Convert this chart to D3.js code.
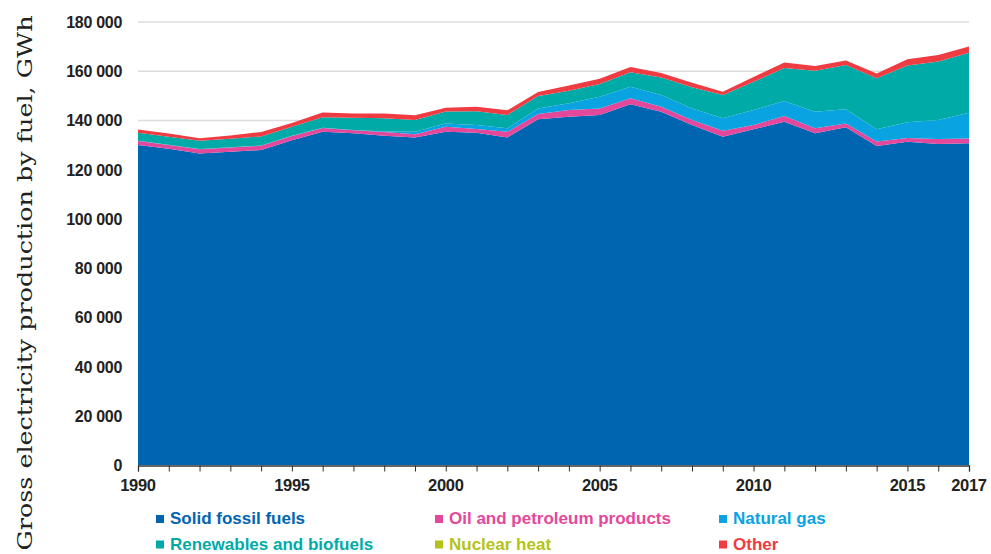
<!DOCTYPE html>
<html><head><meta charset="utf-8">
<script src="https://cdn.jsdelivr.net/npm/d3@7"></script>
<style>
html,body{margin:0;padding:0;background:#fff;}
svg{display:block;}
</style></head>
<body>
<svg id="chart" width="991" height="554"></svg>
<script>
const years = [1990,1991,1992,1993,1994,1995,1996,1997,1998,1999,2000,2001,2002,2003,2004,2005,2006,2007,2008,2009,2010,2011,2012,2013,2014,2015,2016,2017];
const solidFossil = [130000,128500,126600,127300,128000,132000,135400,134800,133800,133100,135400,135000,133100,140500,141500,142200,146600,143500,138100,133400,136400,139500,134800,137200,129600,131300,130400,130700];
const oilPetroleum = [1600,1500,1700,1700,1700,1700,1500,1200,1500,1300,2000,1500,2300,2100,2700,2700,2400,2100,2100,2400,1700,2300,2000,1600,1800,1600,2100,2000];
const naturalGas = [100,100,100,100,100,100,100,100,200,1000,1400,1600,1400,2300,2800,4700,4700,4700,4700,5100,6100,6100,6700,5700,5000,6400,7700,10400];
const renewables = [3300,3300,3300,3500,3700,3600,4300,5000,5400,4800,4800,5600,5400,5000,5100,5200,5900,7200,8600,9400,11500,13400,16700,18000,20700,23000,23700,24400];
const nuclearHeat = [0,0,0,0,0,0,0,0,0,0,0,0,0,0,0,0,0,0,0,0,0,0,0,0,0,0,0,0];
const other = [1300,1300,1100,1300,1800,1600,1900,1700,1900,1900,1600,1900,1900,1700,2100,2100,2100,1800,1800,1400,2000,2200,1900,1900,2000,2600,2700,2500];
const seriesNames = ["Solid fossil fuels","Oil and petroleum products","Natural gas","Renewables and biofuels","Nuclear heat","Other"];
const seriesColors = ["#0065b1","#e4489b","#09a3e2","#00aba7","#b3c31a","#ef3b42"];
const yTicks = [0,20000,40000,60000,80000,100000,120000,140000,160000,180000];
const xTickLabels = [1990,1995,2000,2005,2010,2015,2017];
const yTitle = "Gross electricity production by fuel, GWh";

const seriesValues = [solidFossil, oilPetroleum, naturalGas, renewables, nuclearHeat, other];
const keys = seriesNames;
const table = years.map((y,i)=>{
  const row = {year:y};
  keys.forEach((k,j)=>row[k]=seriesValues[j][i]);
  return row;
});

const svg = d3.select("#chart");
const x = d3.scaleLinear().domain([1990,2017]).range([138,969]);
const y = d3.scaleLinear().domain([0,180000]).range([465,22]);
const font = "'Liberation Sans', Arial, sans-serif";

// gridlines
svg.append("g").selectAll("line").data(yTicks.filter(d=>d>0)).join("line")
  .attr("x1",138).attr("x2",969)
  .attr("y1",d=>y(d)).attr("y2",d=>y(d))
  .attr("stroke","#dcdcdc").attr("stroke-width",1.6);

// stacked areas
const stack = d3.stack().keys(keys);
const layers = stack(table);
const area = d3.area().x(d=>x(d.data.year)).y0(d=>y(d[0])).y1(d=>y(d[1]));
svg.append("g").selectAll("path").data(layers).join("path")
  .attr("d",area).attr("fill",(d,i)=>seriesColors[i]);

// x axis
const xAxis = d3.axisBottom(x).tickValues(years).tickSize(6).tickFormat("");
const gx = svg.append("g").attr("transform","translate(0,465.5)").call(xAxis);
gx.select(".domain").attr("stroke","#333").attr("stroke-width",1.3);
gx.selectAll(".tick line").attr("stroke","#333").attr("stroke-width",1);
svg.append("g").selectAll("text").data(xTickLabels).join("text")
  .attr("x",d=>x(d)).attr("y",491)
  .attr("text-anchor","middle")
  .attr("font-family",font).attr("font-size",16.5).attr("font-weight","bold").attr("fill","#222")
  .style("letter-spacing","-0.3px")
  .text(d=>d);

// y axis labels
const fmt = d=>d3.format(",")(d).replace(/,/g," ");
svg.append("g").selectAll("text").data(yTicks).join("text")
  .attr("x",122).attr("y",d=>y(d)+6)
  .attr("text-anchor","end")
  .attr("font-family",font).attr("font-size",16).attr("font-weight","bold").attr("fill","#222")
  .style("letter-spacing","-0.3px")
  .text(fmt);

// y title
svg.append("text")
  .attr("transform","translate(32,283) rotate(-90)")
  .attr("text-anchor","middle")
  .attr("font-family","'DejaVu Serif', 'Liberation Serif', serif")
  .attr("font-size",21).attr("fill","#222")
  .attr("textLength",535).attr("lengthAdjust","spacingAndGlyphs")
  .text(yTitle);

// legend
const legendPos = [[156,524],[435,524],[719,524],[156,549.5],[435,549.5],[719,549.5]];
const lg = svg.append("g").selectAll("g").data(seriesNames).join("g")
  .attr("transform",(d,i)=>`translate(${legendPos[i][0]},${legendPos[i][1]})`);
lg.append("rect").attr("x",0).attr("y",-9).attr("width",8).attr("height",8)
  .attr("fill",(d,i)=>seriesColors[i]);
lg.append("text").attr("x",14).attr("y",0)
  .attr("font-family",font).attr("font-size",17).attr("font-weight","bold")
  .attr("fill",(d,i)=>seriesColors[i])
  .text(d=>d);
</script>
</body></html>
